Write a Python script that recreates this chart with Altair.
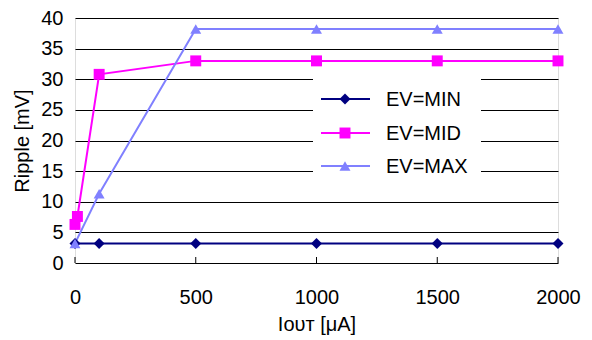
import altair as alt
import pandas as pd

series_names = ["EV=MIN", "EV=MID", "EV=MAX"]
colors = ["#000080", "#FF00FF", "#8080FF"]
shapes = ["diamond", "square", "triangle-up"]

min_x = [0, 100, 500, 1000, 1500, 2000]
min_y = [3.2, 3.2, 3.2, 3.2, 3.2, 3.2]
mid_x = [0, 10, 100, 500, 1000, 1500, 2000]
mid_y = [6.3, 7.6, 30.8, 33.0, 33.0, 33.0, 33.0]
max_x = [0, 100, 500, 1000, 1500, 2000]
max_y = [3.2, 11.3, 38.2, 38.2, 38.2, 38.2]

x_ticks = [0, 500, 1000, 1500, 2000]
y_ticks = [0, 5, 10, 15, 20, 25, 30, 35, 40]

rows = []
for name, xs, ys in zip(series_names, [min_x, mid_x, max_x], [min_y, mid_y, max_y]):
    for xv, yv in zip(xs, ys):
        rows.append({"series": name, "x": xv, "y": yv})
df = pd.DataFrame(rows)

FONT = "Liberation Sans"
W, H = 483, 245

xscale = alt.Scale(domain=[0, 2000], nice=False, zero=False)
yscale = alt.Scale(domain=[0, 40], nice=False)
cscale = alt.Scale(domain=series_names, range=colors)
sscale = alt.Scale(domain=series_names, range=shapes)

xaxis = alt.Axis(values=x_ticks, format="d", title="Iᴏᴜᴛ [μA]", grid=False, ticks=False,
                 domain=False, labelPadding=24, titlePadding=7,
                 labelFontSize=20, titleFontSize=20, labelFont=FONT,
                 titleFont=FONT, labelColor="#000", titleColor="#000",
                 titleFontWeight="normal", labelFlush=False, labelOverlap=False)
yaxis = alt.Axis(values=y_ticks, format="d", title="Ripple [mV]", grid=True, gridColor="#000",
                 gridWidth=1, gridOpacity=1, ticks=False, domain=False,
                 labelPadding=12, titlePadding=8, labelFontSize=20,
                 titleFontSize=20, labelFont=FONT, titleFont=FONT,
                 labelColor="#000", titleColor="#000", titleFontWeight="normal",
                 labelOverlap=False)

base = alt.Chart(df)

# x ticks pointing inside the plot
tick_df = pd.DataFrame({"x": x_ticks})
ticks = alt.Chart(tick_df).mark_rule(color="#000", strokeWidth=1).encode(
    x=alt.X("x:Q", scale=xscale, axis=xaxis),
    y=alt.value(H),
    y2=alt.value(H - 6),
)

# legend background
legend_bg = alt.Chart(pd.DataFrame({"k": [0]})).mark_rect(color="white").encode(
    x=alt.value(238), x2=alt.value(406), y=alt.value(57), y2=alt.value(166)
)

lines = base.mark_line(strokeWidth=2).encode(
    x=alt.X("x:Q", scale=xscale, axis=xaxis),
    y=alt.Y("y:Q", scale=yscale, axis=yaxis),
    color=alt.Color("series:N", scale=cscale, legend=None),
    detail="series:N",
)
points = base.mark_point(filled=True, opacity=1, size=120).encode(
    x=alt.X("x:Q", scale=xscale, axis=xaxis),
    y=alt.Y("y:Q", scale=yscale, axis=yaxis),
    color=alt.Color("series:N", scale=cscale, legend=None),
    shape=alt.Shape("series:N", scale=sscale, legend=None),
)

legend_layers = []
legend_y = [81, 115, 148]
for name, col, shp, ly in zip(series_names, colors, shapes, legend_y):
    d = pd.DataFrame({"label": [name]})
    legend_layers.append(alt.Chart(d).mark_rule(color=col, strokeWidth=2).encode(
        x=alt.value(246), x2=alt.value(295), y=alt.value(ly)))
    legend_layers.append(alt.Chart(d).mark_point(color=col, filled=True, opacity=1,
                                                 shape=shp, size=120).encode(
        x=alt.value(270), y=alt.value(ly)))
    legend_layers.append(alt.Chart(d).mark_text(align="left", baseline="middle",
                                                font=FONT, fontSize=20, color="#000").encode(
        x=alt.value(311), y=alt.value(ly + 1), text="label:N"))

chart = alt.layer(legend_bg, ticks, lines, points, *legend_layers).properties(
    width=W, height=H,
    autosize=alt.AutoSizeParams(type="none"),
    padding={"left": 67, "top": 10, "right": 26, "bottom": 76},
).configure_view(stroke="#000", strokeWidth=1.5).configure(background="white")

chart.save("out.html", embed_options={"renderer": "svg", "actions": False})
